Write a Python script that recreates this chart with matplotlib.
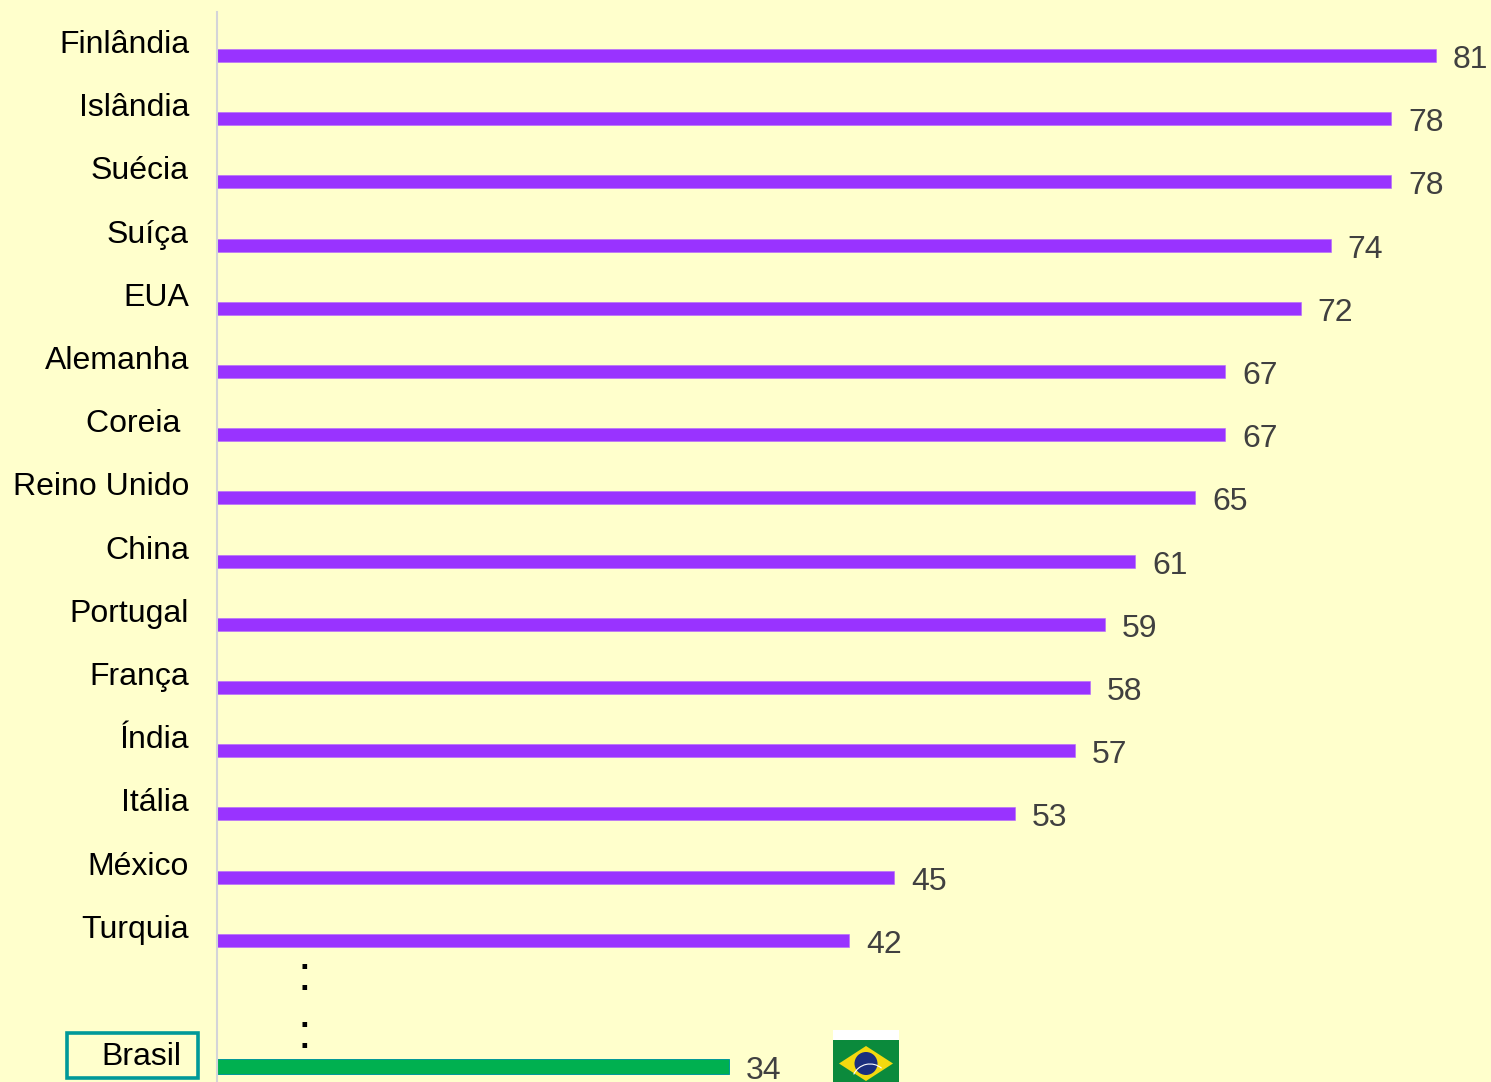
import matplotlib
matplotlib.use("Agg")
import matplotlib.pyplot as plt
from matplotlib.patches import Rectangle, Polygon, Circle, Arc

plt.rcParams['font.family'] = ['Liberation Sans', 'DejaVu Sans']

paises = ["Finlândia", "Islândia", "Suécia", "Suíça", "EUA", "Alemanha", "Coreia ", "Reino Unido",
          "China", "Portugal", "França", "Índia", "Itália", "México", "Turquia"]
valores = [81, 78, 78, 74, 72, 67, 67, 65, 61, 59, 58, 57, 53, 45, 42]
posicoes = list(range(15))
brasil_nome = "Brasil"
brasil_valor = 34
brasil_pos = 16

FUNDO = "#FFFFCC"
ROXO = "#9933FF"
VERDE = "#00B050"
TEAL = "#009999"
W, H = 1491, 1082

fig = plt.figure(figsize=(W / 100, H / 100), dpi=100, facecolor=FUNDO)
ax = fig.add_axes([217 / W, 0, 1 - 217 / W, 1], facecolor=FUNDO)
ax.barh(posicoes, valores, height=0.206, color=ROXO, edgecolor="#B566FF", linewidth=0.4)
ax.barh(brasil_pos, brasil_valor, height=0.235, color=VERDE, edgecolor=TEAL, linewidth=0.7)

# 15.05 px por unidade e 63.2 px por linha
ax.set_xlim(0, (W - 217) / 15.05)
ax.set_ylim((H - 55.5) / 63.2, -55.5 / 63.2)
ax.set_xticks([])
ax.set_yticks([])
for lado in ["top", "right", "bottom"]:
    ax.spines[lado].set_visible(False)
ax.spines["left"].set_color("#D4D4D8")
ax.spines["left"].set_linewidth(1.5)
ax.spines["left"].set_bounds((H - 55.5) / 63.2, (12 - 55.5) / 63.2)

fs = 23
for p, v in zip(posicoes + [brasil_pos], valores + [brasil_valor]):
    ax.annotate(str(v), (v, p), xytext=(17, -12.5), textcoords="offset pixels",
                fontsize=fs, color="#404040", ha="left", va="baseline", annotation_clip=False)
for p, nome in zip(posicoes, paises):
    ax.annotate(nome, (0, p), xytext=(-28, 2.5), textcoords="offset pixels",
                fontsize=fs, color="black", ha="right", va="baseline", annotation_clip=False)

# camada em pixels para a caixa, os pontos e a bandeira
top = fig.add_axes([0, 0, 1, 1], facecolor="none")
top.set_xlim(0, W)
top.set_ylim(H, 0)
top.axis("off")
top.add_patch(Rectangle((67, 1033), 131, 45, fill=False, edgecolor=TEAL, linewidth=2.6))
top.text(181, 1065, brasil_nome, fontsize=fs, color="black", ha="right", va="baseline")
top.text(304, 990, ":", fontsize=35, color="black", ha="center", va="baseline")
top.text(304, 1048, ":", fontsize=35, color="black", ha="center", va="baseline")

top.add_patch(Rectangle((833, 1030), 66, 10, facecolor="white", edgecolor="none"))
top.add_patch(Rectangle((833, 1040), 66, 42, facecolor="#0B8A3C", edgecolor="none"))
top.add_patch(Polygon([(839, 1063.5), (866, 1046), (893, 1063.5), (866, 1081)], facecolor="#F4D90F", edgecolor="none"))
top.add_patch(Circle((866, 1063.5), 11.5, facecolor="#1B2F7E", edgecolor="none"))
top.add_patch(Arc((870, 1082), 36, 36, theta1=205, theta2=310, color="white", linewidth=0.8))

fig.savefig("out.png", dpi=100, facecolor=FUNDO)
